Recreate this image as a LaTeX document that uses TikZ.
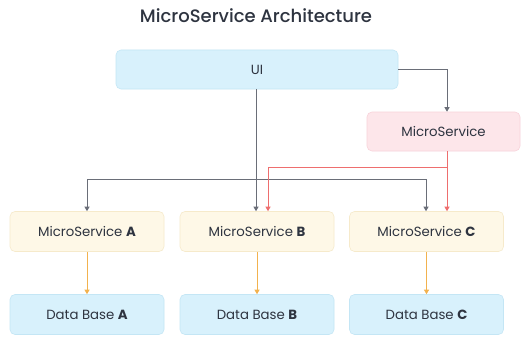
\documentclass[tikz,border=0pt]{standalone}
\usepackage{fontspec}
\setmainfont{Poppins}
\newfontfamily\titlefont{Poppins Medium}
\usetikzlibrary{arrows.meta}
\definecolor{uiblue}{HTML}{D8F1FC}
\definecolor{uiblueline}{HTML}{C4E6F5}
\definecolor{mspink}{HTML}{FDE6EA}
\definecolor{mspinkline}{HTML}{F8D3DA}
\definecolor{msyellow}{HTML}{FEF8E7}
\definecolor{msyellowline}{HTML}{F6EACB}
\definecolor{linkgrey}{HTML}{6A6E78}
\definecolor{linkred}{HTML}{EE6E6E}
\definecolor{linkorange}{HTML}{F2B24E}
\definecolor{textgrey}{HTML}{2E3440}
\tikzset{
  box/.style={draw, rounded corners=5pt, line width=0.6pt, inner sep=0pt,
    font=\fontsize{13.3}{15}\selectfont, text=textgrey},
  uibox/.style={box, fill=uiblue, draw=uiblueline},
  pinkbox/.style={box, fill=mspink, draw=mspinkline},
  yellowbox/.style={box, fill=msyellow, draw=msyellowline},
  link/.style={line width=0.8pt, -{Triangle[length=4.5pt,width=5pt]}},
  greylink/.style={link, draw=linkgrey},
  redlink/.style={link, draw=linkred},
  orangelink/.style={link, draw=linkorange},
}
\begin{document}
\begin{tikzpicture}[x=1pt,y=-1pt]
\useasboundingbox (0,0) rectangle (521,337);
\fill[white] (0,0) rectangle (521,337);

\node[font=\titlefont\fontsize{18}{20}\selectfont, text=textgrey] (title) at (256,16) {MicroService Architecture};

\node[uibox, minimum width=282pt, minimum height=39pt] (ui) at (257,69.5) {UI};
\node[pinkbox, minimum width=153pt, minimum height=39pt] (ms) at (443.5,131.5) {MicroService};

\node[yellowbox, minimum width=154pt, minimum height=40pt] (msa) at (87,231.5) {MicroService \textbf{A}};
\node[yellowbox, minimum width=154pt, minimum height=40pt] (msb) at (257,231.5) {MicroService \textbf{B}};
\node[yellowbox, minimum width=154pt, minimum height=40pt] (msc) at (426.5,231.5) {MicroService \textbf{C}};

\node[uibox, minimum width=154pt, minimum height=40pt] (dba) at (87,314.5) {Data Base \textbf{A}};
\node[uibox, minimum width=154pt, minimum height=40pt] (dbb) at (257,314.5) {Data Base \textbf{B}};
\node[uibox, minimum width=154pt, minimum height=40pt] (dbc) at (426.5,314.5) {Data Base \textbf{C}};

% UI to the side service
\draw[greylink] (ui.east |- 0,69) -| (ms.north -| 447,0);

% UI down to the three services
\coordinate (split) at (256,179);
\draw[greylink] (ui.south -| split) -- (msb.north -| split);
\draw[greylink] (split) -| (msa.north -| 87,0);
\draw[greylink] (split) -| (msc.north -| 426,0);

% side service to B and C
\coordinate (redsplit) at (447,167);
\draw[redlink] (ms.south -| redsplit) -- (msc.north -| redsplit);
\draw[redlink] (redsplit) -| (msb.north -| 268,0);

% services to their databases
\draw[orangelink] (msa) -- (dba);
\draw[orangelink] (msb) -- (dbb);
\draw[orangelink] (msc) -- (dbc);
\end{tikzpicture}
\end{document}
